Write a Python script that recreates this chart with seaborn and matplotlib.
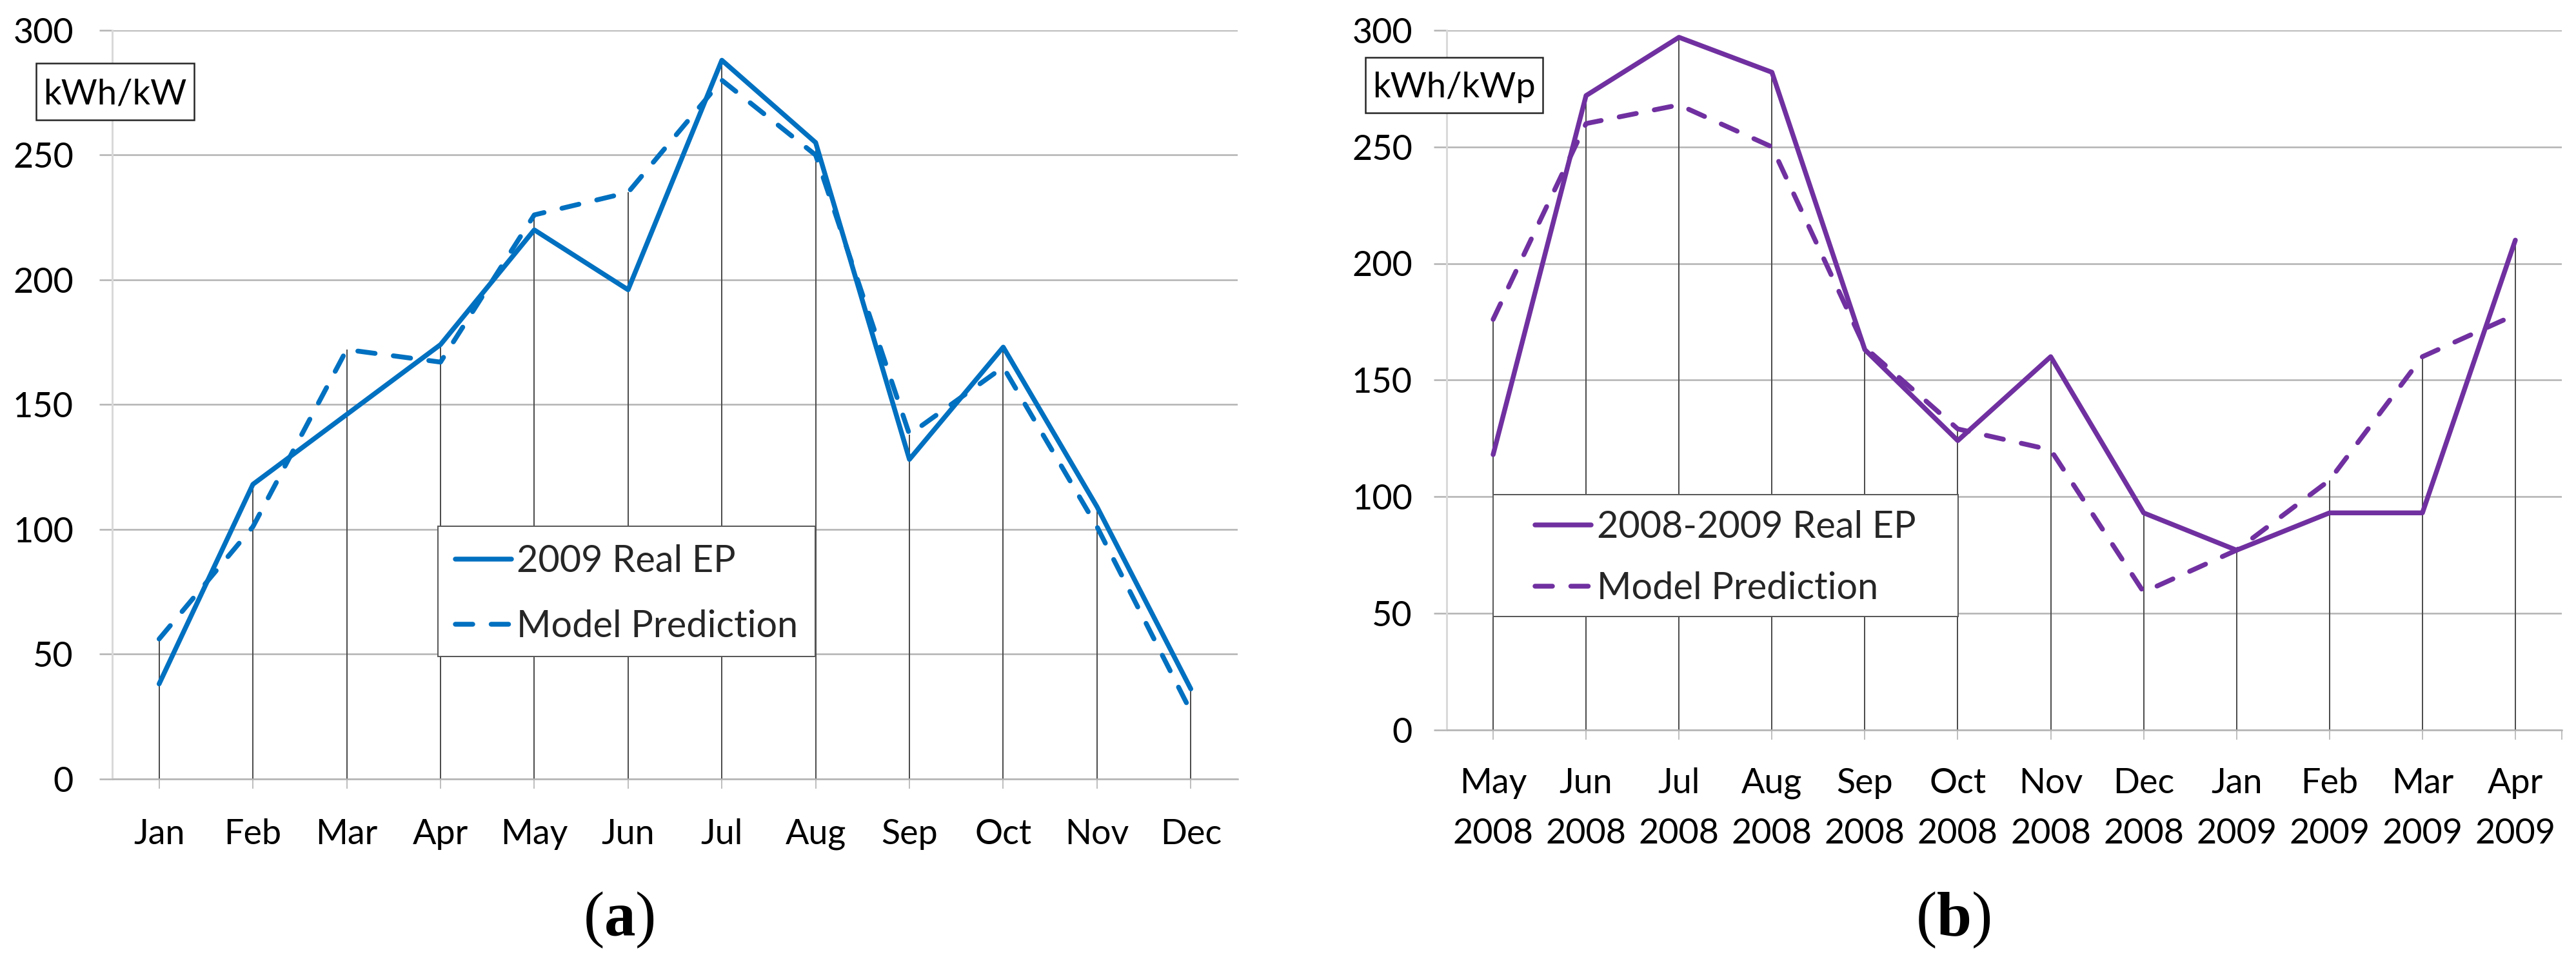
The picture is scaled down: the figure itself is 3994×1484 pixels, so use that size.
import numpy as np
import pandas as pd
import matplotlib
matplotlib.use("Agg")
import matplotlib.pyplot as plt
import seaborn as sns
from matplotlib.patches import Rectangle
from matplotlib.font_manager import FontProperties

# ---------------- data ----------------
months_a = ["Jan", "Feb", "Mar", "Apr", "May", "Jun",
            "Jul", "Aug", "Sep", "Oct", "Nov", "Dec"]
real_a = [38, 118, 146, 174, 220, 196, 288, 255, 128, 173, 109, 36]
model_a = [56, 101, 172, 167, 226, 235, 280, 250, 138, 165, 101, 27]

months_b = ["May\n2008", "Jun\n2008", "Jul\n2008", "Aug\n2008", "Sep\n2008",
            "Oct\n2008", "Nov\n2008", "Dec\n2008", "Jan\n2009", "Feb\n2009",
            "Mar\n2009", "Apr\n2009"]
real_b = [118, 272, 297, 282, 163, 124, 160, 93, 77, 93, 93, 210]
model_b = [176, 260, 268, 250, 164, 129, 120, 59, 77, 107, 160, 178]

yticks = [0, 50, 100, 150, 200, 250, 300]
label_real_a = "2009 Real EP"
label_real_b = "2008-2009 Real EP"
label_model = "Model Prediction"
unit_a = "kWh/kW"
unit_b = "kWh/kWp"

BLUE = "#0070C0"
PURPLE = "#7030A0"

# ---------------- figure ----------------
W, H, DPI = 3994, 1484, 100
sns.set_style("white")
FAMILY = ["Lato", "DejaVu Sans"]
plt.rcParams["font.family"] = FAMILY

fig = plt.figure(figsize=(W / DPI, H / DPI), dpi=DPI)
fig.patch.set_facecolor("white")
renderer = fig.canvas.get_renderer()


def px(v):
    return v * 72.0 / DPI


def fx(x):
    return x / W


def fy(y):
    return 1 - y / H


def metrics(s, fs, family=FAMILY, weight="normal"):
    fp = FontProperties(family=family, size=fs, weight=weight)
    return renderer.get_text_width_height_descent(s, fp, ismath=False)


def fit(s, target_px, **kw):
    w = metrics(s, 100, **kw)[0]
    return 100.0 * target_px / w


# font sizes fitted to the reference text widths
FS_LEG = fit("Model Prediction", 437)
FS_TICK = 0.35 * fit("2008", 122.5) + 0.65 * fit("Jan Feb", 81.5 + 89 + 14)
FS_UNIT = fit("kWh/kW", 222)

GRID = "#b3b3b3"


def lp(fs):
    w, h, d = metrics("lp", fs)
    return h - d, d, h


def panel(ax, labels, real, model, color, real_label, ypad_px,
          axis_y, baseline1, box, row_y, unit_text, unit_box, unit_cap_mid,
          line_dist=None):
    n = len(labels)
    x = np.arange(n)
    df = pd.DataFrame({"idx": x, "real": real, "model": model})
    top = np.maximum(np.array(real), np.array(model))

    # drop lines
    ax.vlines(x, 0, top, colors="#4d4d4d", lw=px(2), zorder=2)

    sns.lineplot(data=df, x="idx", y="real", ax=ax, color=color,
                 lw=px(7.5), zorder=3, legend=False, clip_on=False)
    l_real = ax.lines[-1]
    sns.lineplot(data=df, x="idx", y="model", ax=ax, color=color,
                 lw=px(7.5), zorder=3, legend=False, clip_on=False)
    l_model = ax.lines[-1]
    l_model.set_dashes((3.6, 3.8))
    l_model.set_dash_capstyle("round")
    l_real.set_solid_capstyle("round")

    ax.set_xlim(-0.5, n - 0.5)
    ax.set_ylim(0, 300)
    ax.set_xticks(x)
    asc, desc, lph = lp(FS_TICK)
    if line_dist is not None:
        ls = (line_dist - desc) / asc
    else:
        ls = 1.2
    ax.set_xticklabels(labels, linespacing=ls)
    ax.set_yticks(yticks)
    ax.set_xlabel("")
    ax.set_ylabel("")

    tick_len = 15
    xpad = baseline1 - axis_y - tick_len - asc
    ax.tick_params(axis="x", bottom=True, length=px(tick_len), width=px(2),
                   color="#bfbfbf", pad=px(xpad), labelsize=FS_TICK,
                   labelcolor="black")
    ax.tick_params(axis="y", left=True, length=px(20), width=px(2.5),
                   color=GRID, pad=px(ypad_px), labelsize=FS_TICK,
                   labelcolor="black")
    ax.grid(axis="y", color=GRID, lw=px(2.5))
    ax.grid(axis="x", visible=False)
    ax.set_axisbelow(True)
    for s in ["top", "right"]:
        ax.spines[s].set_visible(False)
    ax.spines["left"].set_color("#d9d9d9")
    ax.spines["left"].set_linewidth(px(3))
    ax.spines["bottom"].set_color(GRID)
    ax.spines["bottom"].set_linewidth(px(2.5))

    # legend frame
    x0, y0, x1, y1 = box
    rect = Rectangle((fx(x0), fy(y1)), (x1 - x0) / W, (y1 - y0) / H,
                     transform=fig.transFigure, facecolor="white",
                     edgecolor="#595959", lw=px(2), zorder=4, clip_on=False)
    ax.add_artist(rect)
    fs_px = FS_LEG * DPI / 72.0
    l_asc, l_desc, l_h = lp(FS_LEG)
    cap = metrics("H", FS_LEG)[1]
    r1, r2 = row_y
    labelspacing = ((r2 - r1) - l_h) / fs_px
    anchor_y = (r1 + r2) / 2 + cap / 2 + (l_desc - l_asc) / 2
    leg = ax.legend(handles=[l_real, l_model],
                    labels=[real_label, label_model],
                    loc="center",
                    bbox_to_anchor=(fx((x0 + x1) / 2), fy(anchor_y)),
                    bbox_transform=fig.transFigure, frameon=False,
                    fontsize=FS_LEG, handlelength=87 / fs_px,
                    handletextpad=8.5 / fs_px,
                    labelspacing=labelspacing, borderpad=0.0)
    leg.set_zorder(6)

    # unit label box
    ux0, uy0, ux1, uy1 = unit_box
    urect = Rectangle((fx(ux0), fy(uy1)), (ux1 - ux0) / W, (uy1 - uy0) / H,
                      transform=fig.transFigure, facecolor="white",
                      edgecolor="#262626", lw=px(2.5), zorder=5)
    fig.add_artist(urect)
    ucap = metrics("H", FS_UNIT)[1]
    fig.text(fx((ux0 + ux1) / 2), fy(unit_cap_mid + ucap / 2), unit_text,
             ha="center", va="baseline", fontsize=FS_UNIT, color="black",
             zorder=6)


# axes placed in pixel coordinates of the reference
A_L, A_R, A_T, A_B = 174, 1919, 47, 1207.5
B_L, B_R, B_T, B_B = 2243, 3972, 47, 1131.5
axA = fig.add_axes([fx(A_L), fy(A_B), (A_R - A_L) / W, (A_B - A_T) / H])
axB = fig.add_axes([fx(B_L), fy(B_B), (B_R - B_L) / W, (B_B - B_T) / H])

panel(axA, months_a, real_a, model_a, BLUE, label_real_a, ypad_px=40,
      axis_y=A_B, baseline1=1309, box=(679, 816, 1264, 1017.5),
      row_y=(866, 967.5), unit_text=unit_a, unit_box=(56, 98, 301, 186),
      unit_cap_mid=141.5)
panel(axB, months_b, real_b, model_b, PURPLE, label_real_b, ypad_px=33,
      axis_y=B_B, baseline1=1230, box=(2315, 766.5, 3036, 956),
      row_y=(813, 908), unit_text=unit_b, unit_box=(2117, 89, 2392, 175),
      unit_cap_mid=132, line_dist=77.5)

# tick at the right end of panel (b)'s category axis
axB.set_xticks([len(months_b) - 0.5], minor=True)
axB.tick_params(axis="x", which="minor", bottom=True, length=px(15),
                width=px(2), color="#bfbfbf")


def panel_label(cx, letter):
    fam = "Liberation Serif"
    fs = 70
    wp = metrics("(", fs, family=fam)[0]
    wl = metrics(letter, fs, family=fam, weight="bold")[0]
    start = cx - (2 * wp + wl) / 2
    base = 1450
    kw = dict(fontsize=fs, family=fam, va="baseline", ha="left",
              color="black")
    fig.text(fx(start), fy(base), "(", **kw)
    fig.text(fx(start + wp), fy(base), letter, fontweight="bold", **kw)
    fig.text(fx(start + wp + wl), fy(base), ")", **kw)


panel_label(961, "a")
panel_label(3030, "b")

fig.savefig("out.png", dpi=DPI, facecolor="white")
